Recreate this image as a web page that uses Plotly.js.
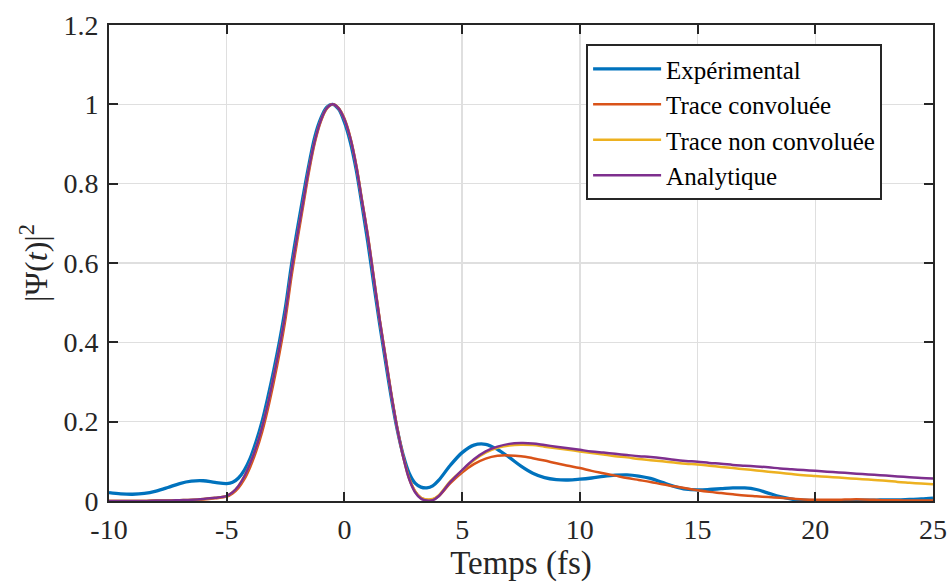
<!DOCTYPE html>
<html>
<head>
<meta charset="utf-8">
<script src="https://cdn.plot.ly/plotly-3.0.1.min.js"></script>
<style>
  html, body { margin: 0; padding: 0; background: #ffffff; }
  #chart { width: 948px; height: 584px; }
</style>
</head>
<body>
<div id="chart"></div>
<script>
// Time axis (fs)
const t = [-10,-9.5,-9,-8.5,-8,-7.5,-7,-6.5,-6,-5.5,-5,
  -4.75,-4.5,-4.25,-4,-3.75,-3.5,-3.25,-3,-2.75,-2.5,-2.25,-2,-1.75,-1.5,-1.25,-1,-0.75,-0.5,-0.25,0,
  0.25,0.5,0.75,1,1.25,1.5,1.75,2,2.25,2.5,2.75,3,3.25,3.5,3.75,4,
  4.5,5,5.5,6,6.5,7,7.5,8,8.5,9,9.5,10,10.5,11,11.5,12,12.5,13,13.5,14,14.5,15,15.5,16,16.5,17,17.5,18,18.5,19,19.5,20,20.5,21,21.5,22,22.5,23,23.5,24,24.5,25];

const experimental = [0.021,0.018,0.017,0.019,0.025,0.034,0.044,0.050,0.051,0.047,0.044,
  0.047,0.058,0.078,0.108,0.150,0.200,0.262,0.330,0.405,0.490,0.595,0.685,0.770,0.850,0.920,0.965,0.993,1.000,0.988,0.955,
  0.905,0.835,0.745,0.650,0.545,0.445,0.350,0.258,0.178,0.115,0.070,0.045,0.035,0.033,0.038,0.052,
  0.090,0.122,0.141,0.143,0.130,0.110,0.088,0.070,0.059,0.054,0.053,0.055,0.058,0.062,0.065,0.066,0.063,0.057,0.047,0.037,0.030,0.028,0.029,0.031,0.033,0.033,0.029,0.020,0.011,0.005,0.002,0.001,0.001,0.001,0.001,0.002,0.002,0.003,0.003,0.004,0.005,0.007];

const convoluee = [0,0,0,0,0.001,0.001,0.001,0.002,0.004,0.007,0.011,
  0.019,0.033,0.055,0.086,0.125,0.173,0.232,0.300,0.375,0.460,0.565,0.657,0.745,0.832,0.905,0.957,0.989,1.000,0.991,0.964,
  0.917,0.848,0.758,0.668,0.563,0.458,0.363,0.268,0.183,0.113,0.058,0.025,0.008,0.003,0.004,0.012,
  0.045,0.072,0.093,0.107,0.114,0.115,0.113,0.108,0.102,0.095,0.089,0.083,0.076,0.070,0.064,0.058,0.053,0.048,0.042,0.037,0.032,0.027,0.023,0.020,0.017,0.014,0.012,0.010,0.008,0.006,0.004,0.003,0.003,0.003,0.004,0.004,0.003,0.002,0.002,0.001,0.001,0.001];

const nonConvoluee = [0,0,0,0,0.001,0.001,0.002,0.003,0.005,0.008,0.013,
  0.022,0.038,0.062,0.095,0.135,0.185,0.245,0.315,0.390,0.475,0.580,0.670,0.755,0.840,0.910,0.960,0.990,1.000,0.990,0.962,
  0.915,0.845,0.755,0.665,0.560,0.455,0.360,0.265,0.180,0.110,0.056,0.024,0.008,0.004,0.005,0.014,
  0.050,0.077,0.103,0.122,0.134,0.140,0.142,0.141,0.137,0.133,0.129,0.125,0.121,0.117,0.113,0.110,0.106,0.103,0.100,0.097,0.094,0.092,0.089,0.086,0.083,0.080,0.077,0.074,0.071,0.068,0.065,0.063,0.061,0.059,0.057,0.055,0.053,0.051,0.048,0.046,0.044,0.042];

const analytique = [0,0,0,0,0.001,0.001,0.002,0.003,0.005,0.008,0.013,
  0.022,0.038,0.062,0.095,0.135,0.185,0.245,0.315,0.390,0.475,0.580,0.670,0.755,0.840,0.910,0.960,0.990,1.000,0.990,0.962,
  0.915,0.845,0.755,0.665,0.560,0.455,0.360,0.265,0.180,0.110,0.055,0.022,0.006,0.001,0.002,0.012,
  0.048,0.078,0.105,0.125,0.137,0.144,0.146,0.145,0.141,0.137,0.133,0.129,0.125,0.122,0.119,0.116,0.113,0.111,0.108,0.104,0.101,0.099,0.096,0.094,0.091,0.089,0.087,0.085,0.082,0.080,0.078,0.076,0.074,0.072,0.070,0.068,0.066,0.064,0.062,0.060,0.058,0.057];

const seriesNames = ['Expérimental','Trace convoluée','Trace non convoluée','Analytique'];
const xTickVals = [-10,-5,0,5,10,15,20,25];
const xTickText = ['-10','-5','0','5','10','15','20','25'];
const yTickVals = [0,0.2,0.4,0.6,0.8,1,1.2];
const yTickText = ['0','0.2','0.4','0.6','0.8','1','1.2'];

const colors = ['#0072BD','#D95319','#EDB120','#7E2F8E'];
const widths = [3.3,2.5,2.5,2.5];
const ys = [experimental, convoluee, nonConvoluee, analytique];

const data = ys.map((y, i) => ({
  x: t, y: y, type: 'scatter', mode: 'lines', name: seriesNames[i],
  line: { color: colors[i], width: widths[i], shape: 'spline', smoothing: 1 }
}));

const FONT = '"Liberation Serif", serif';

function axis(extra) {
  return Object.assign({
    showline: true, mirror: 'allticks', linecolor: '#262626', linewidth: 2,
    ticks: 'inside', ticklen: 9, tickwidth: 2, tickcolor: '#262626',
    showgrid: true, gridcolor: '#dfdfdf', gridwidth: 1.5, zeroline: false,
    tickfont: { family: FONT, size: 28, color: '#262626' }
  }, extra);
}

const layout = {
  width: 948, height: 584,
  margin: { l: 109, r: 15, t: 25, b: 83 },
  paper_bgcolor: '#ffffff', plot_bgcolor: '#ffffff',
  font: { family: FONT, size: 28, color: '#262626' },
  showlegend: true,
  xaxis: axis({
    range: [-10, 25], tickmode: 'array', tickvals: xTickVals, ticktext: xTickText,
    ticklabelstandoff: 2,
    title: { text: 'Temps (fs)', font: { family: FONT, size: 33, color: '#262626' }, standoff: 4 }
  }),
  yaxis: axis({
    range: [0, 1.2], tickmode: 'array', tickvals: yTickVals, ticktext: yTickText,
    ticklabelstandoff: 3,
    title: { text: '|Ψ(<i>t</i>)|<sup>2</sup>', font: { family: FONT, size: 32, color: '#262626' }, standoff: 6 }
  }),
  legend: {
    x: 0.579, y: 0.96, xanchor: 'left', yanchor: 'top',
    bgcolor: '#ffffff', bordercolor: '#262626', borderwidth: 2,
    font: { family: FONT, size: 25, color: '#000000' },
    itemwidth: 68, tracegroupgap: 0
  }
};

Plotly.newPlot('chart', data, layout, { displayModeBar: false, staticPlot: true });
</script>
</body>
</html>
